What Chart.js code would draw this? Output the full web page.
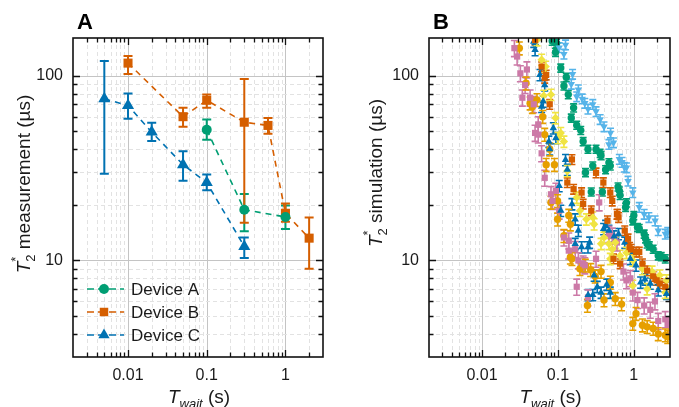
<!DOCTYPE html>
<html><head><meta charset="utf-8">
<script src="https://cdn.jsdelivr.net/npm/chart.js@4.4.1/dist/chart.umd.min.js"></script>
<style>
html,body{margin:0;padding:0;background:#fff;width:679px;height:407px;overflow:hidden}
#wa{position:absolute;left:0;top:0;width:340px;height:407px}
#wb{position:absolute;left:340px;top:0;width:339px;height:407px}
</style></head><body>
<div id="wa"><canvas id="ca" width="340" height="407"></canvas></div>
<div id="wb"><canvas id="cb" width="339" height="407"></canvas></div>
<script>
// ---------- Panel A: measured T2* ----------
const deviceNames = ['Device A', 'Device B', 'Device C'];
const devAx  = [0.1, 0.3, 1];
const devAy  = [51, 18.8, 17.2];
const devAlo = [45, 14.4, 14.8];
const devAhi = [58, 22.9, 19.8];
const devBx  = [0.01, 0.05, 0.1, 0.3, 0.6, 1, 2];
const devBy  = [117, 60, 73.6, 56, 53.8, 18, 13.2];
const devBlo = [102, 53, 67, 16, 48.5, 16.2, 9.0];
const devBhi = [128, 67, 79, 96, 59, 20.3, 17.1];
const devCx  = [0.005, 0.01, 0.02, 0.05, 0.1, 0.3];
const devCy  = [75, 69, 49.5, 33, 26.4, 11.9];
const devClo = [29.5, 58.5, 44.3, 27, 24, 10.3];
const devChi = [120, 80, 55.6, 39, 29.2, 13.3];

// ---------- Panel B: simulated T2* ----------
const skyX = [0.104,0.126,0.12,0.156,0.15,0.186,0.177,0.209,0.226,0.288,0.249,0.318,0.36,0.405,0.493,0.47,0.54,0.645,0.7,0.75,0.8,0.84,0.97,1.18,1.37,1.58,1.91,2.1,2.6,2.8];
const skyY = [142,147,131,102,90,84,77,75,71,70,66,64,58,53,49,42.5,43.4,35.3,34,32,31.8,26.9,23.3,19.4,17.8,17.1,16.4,14.5,13.9,14.2];
const greenX = [0.084,0.096,0.093,0.109,0.129,0.12,0.137,0.161,0.15,0.177,0.2,0.215,0.249,0.318,0.36,0.37,0.288,0.231,0.47,0.49,0.425,0.275,0.385,0.62,0.645,0.66,0.78,0.8,0.97,1.0,1.12,1.18,1.37,1.43,1.5,1.6,1.8,2.1,2.3,2.6];
const greenY = [154,150,134,110,98,88,79,67,59,54,50.6,44,40,40,38,37,32.5,29.9,33.8,32.5,31,23.5,23.5,25,23.8,22.5,19.4,20.5,16.4,17.5,15.1,14.9,13.9,13.1,12.3,12.0,11.5,10.6,10.5,10.2];
const blueX = [0.048,0.05,0.058,0.067,0.064,0.061,0.087,0.094,0.076,0.078,0.126,0.133,0.104,0.153,0.109,0.169,0.186,0.262,0.205,0.4,0.425,0.47,0.55,0.63,0.76,0.9,1.07,0.37,0.33,0.288,0.49,0.249,0.169,0.3,0.44,1.23,1.4,1.65,2.1,2.7,0.25];
const blueY = [153,138,101,89,72.6,68,52,46,44,40,35,31,25.3,20.2,18.6,16.7,14.5,12.5,11.8,14.8,15.4,14.5,13.5,13.9,12.5,10.2,9.4,6.7,7.2,6.5,6.7,11.8,12.3,8.3,7.4,7.6,7.9,7.5,6.9,6.6,6.5];
const vermX = [0.05,0.061,0.067,0.07,0.078,0.153,0.133,0.161,0.205,0.215,0.318,0.397,0.49,0.52,0.6,0.61,0.63,0.275,0.45,0.76,0.84,0.92,1.18,0.54,0.66,0.88,1.07,1.3,1.5,1.8,2.0,2.2,2.6];
const vermY = [156,112,97,101,70,35.2,26.4,24.3,23.3,20.2,29.8,26.4,23.3,21,17.8,17.8,17.1,18.6,16.4,14.5,13.1,11.5,11.1,10.2,9.6,11.8,11.1,9.6,8.8,8.2,7.8,7.5,7.2];
const yelX = [0.053,0.061,0.065,0.069,0.081,0.093,0.1,0.109,0.12,0.133,0.177,0.195,0.237,0.288,0.3,0.405,0.47,0.37,0.52,0.57,0.66,0.49,0.8,0.97,1.3,1.74,2.2,2.7,0.97,1.5,2.6];
const yelY = [156,122,78,112,79,59,46,49,44,30.5,21.9,18.6,16.7,17.1,15.7,13.3,12.3,12.3,11.5,12.5,10.6,10.2,11,10,9.0,8.7,8.3,7.8,7.3,7.0,6.7];
const pinkX = [0.0267,0.029,0.032,0.039,0.037,0.034,0.043,0.048,0.055,0.05,0.055,0.061,0.067,0.081,0.094,0.085,0.104,0.12,0.139,0.169,0.215,0.35,0.47,0.52,0.6,0.177,0.139,0.186,0.226,0.249,0.318,0.73,0.8,0.9,0.97,1.12,1.37,1.65,1.9,2.1,2.6,2.9];
const pinkY = [141,127,103,108,89,76,76,70,54.5,49,48,38,28,22.8,23.8,21,18.6,13.3,12.8,11.5,9.6,20.6,13.9,13.6,12.5,7.2,11.3,10,9.4,6.3,10.2,8.7,7.8,8.0,6.7,6.1,5.7,5.4,6.0,4.7,4.8,4.5];
const orX = [0.031,0.038,0.043,0.046,0.053,0.063,0.067,0.078,0.07,0.09,0.099,0.081,0.099,0.139,0.146,0.12,0.153,0.146,0.195,0.23,0.27,0.31,0.37,0.49,0.405,0.57,0.69,0.245,1.07,0.97,1.3,1.5,1.8,2.1,2.6,2.8];
const orY = [141,91,71,68,74,60,48,40,33,33,21,20.6,16.7,17.5,15.7,13.6,10.2,10.4,9.0,9.4,8.9,8.2,8.7,7.6,6.1,6.2,5.8,5.7,5.15,4.55,4.46,4.37,4.28,4.0,3.94,3.86];
// relative size of the simulation error bars, one per series (sky, green, blue, verm, yellow, pink, orange)
const simRelErr = [0.06, 0.05, 0.07, 0.06, 0.07, 0.10, 0.08];

// ---------- axis ranges ----------
const xRange = [0.002, 3];
const yRange = [3, 160];

const FF = '"Liberation Sans", Arial, Helvetica, sans-serif';
const C = {green:'#009E73', verm:'#D55E00', blue:'#0072B2', sky:'#56B4E9', pink:'#CC79A7', yellow:'#F0E442', orange:'#E69F00'};

function isDecade(v){ const l = Math.log10(v); return Math.abs(l - Math.round(l)) < 1e-6; }
function isNiceTick(v){ const e = Math.floor(Math.log10(v) + 1e-9); const m = v / Math.pow(10, e); return Math.abs(m - Math.round(m)) < 1e-6; }
function fmt(v){ return String(Number(v.toPrecision(1))); }

function zip(xs, ys){ return xs.map((x, i) => ({x: x, y: ys[i]})); }

function layoutRich(ctx, parts){
  let x = 0, prevX = 0, prevW = 0; const out = [];
  for (const p of parts){
    ctx.font = p.font; const w = ctx.measureText(p.t).width;
    if (p.stack){ out.push(Object.assign({}, p, {x: prevX})); x += Math.max(0, w - prevW); prevW = Math.max(prevW, w); }
    else { out.push(Object.assign({}, p, {x: x})); prevX = x; prevW = w; x += w; }
  }
  return {items: out, width: x};
}
function drawRich(ctx, parts, cx, baseY){
  const L = layoutRich(ctx, parts); const x0 = cx - L.width / 2;
  ctx.textAlign = 'left'; ctx.textBaseline = 'alphabetic';
  for (const it of L.items){ ctx.font = it.font; ctx.fillText(it.t, x0 + it.x, baseY + (it.dy || 0)); }
}

const fT = 'italic 19px ' + FF, fN = '19px ' + FF, fS = '13px ' + FF, fSi = 'italic 13px ' + FF;

function framePlugin(cfg){
  return {
    id: 'frame' + cfg.label,
    beforeDatasetsDraw(chart){
      const {ctx, chartArea: a, scales: {x, y}} = chart;
      ctx.save();
      ctx.beginPath(); ctx.rect(a.left, a.top, a.width, a.height); ctx.clip();
      const vline = (px, major) => {
        ctx.beginPath(); ctx.setLineDash(major ? [] : [4, 3]);
        ctx.strokeStyle = major ? '#c4c4c4' : '#e2e2e2'; ctx.lineWidth = 1;
        ctx.moveTo(px, a.top); ctx.lineTo(px, a.bottom); ctx.stroke();
      };
      const hline = (py, major) => {
        ctx.beginPath(); ctx.setLineDash(major ? [] : [4, 3]);
        ctx.strokeStyle = major ? '#c4c4c4' : '#e2e2e2'; ctx.lineWidth = 1;
        ctx.moveTo(a.left, py); ctx.lineTo(a.right, py); ctx.stroke();
      };
      for (const t of x.ticks){ if (!isNiceTick(t.value)) continue; const px = Math.round(x.getPixelForValue(t.value)) + 0.5; if (px <= a.left + 1 || px >= a.right - 1) continue; vline(px, isDecade(t.value)); }
      for (const t of y.ticks){ if (!isNiceTick(t.value)) continue; const py = Math.round(y.getPixelForValue(t.value)) + 0.5; if (py <= a.top + 1 || py >= a.bottom - 1) continue; hline(py, isDecade(t.value)); }
      ctx.setLineDash([]);
      chart.data.datasets.forEach((ds) => {
        if (!ds.errLo) return;
        ctx.strokeStyle = ds.borderColor; ctx.lineWidth = ds.errWidth; const cw = ds.capHalf;
        ds.data.forEach((p, j) => {
          const px = x.getPixelForValue(p.x), p1 = y.getPixelForValue(ds.errLo[j]), p2 = y.getPixelForValue(ds.errHi[j]);
          ctx.beginPath();
          ctx.moveTo(px, p1); ctx.lineTo(px, p2);
          ctx.moveTo(px - cw, p1); ctx.lineTo(px + cw, p1);
          ctx.moveTo(px - cw, p2); ctx.lineTo(px + cw, p2);
          ctx.stroke();
        });
      });
      ctx.restore();
    },
    afterDraw(chart){
      const {ctx, chartArea: a, scales: {x, y}} = chart;
      ctx.save();
      ctx.strokeStyle = '#111'; ctx.lineWidth = 1.3;
      ctx.beginPath();
      for (const t of x.ticks){
        if (!isNiceTick(t.value)) continue;
        const px = Math.round(x.getPixelForValue(t.value)) + 0.5; if (px <= a.left + 1 || px >= a.right - 1) continue;
        const L = isDecade(t.value) ? 7 : 4.5;
        ctx.moveTo(px, a.bottom); ctx.lineTo(px, a.bottom - L);
        ctx.moveTo(px, a.top); ctx.lineTo(px, a.top + L);
      }
      for (const t of y.ticks){
        if (!isNiceTick(t.value)) continue;
        const py = Math.round(y.getPixelForValue(t.value)) + 0.5; if (py <= a.top + 1 || py >= a.bottom - 1) continue;
        const L = isDecade(t.value) ? 7 : 4.5;
        ctx.moveTo(a.left, py); ctx.lineTo(a.left + L, py);
        ctx.moveTo(a.right, py); ctx.lineTo(a.right - L, py);
      }
      ctx.stroke();
      ctx.lineWidth = 1.6; ctx.strokeStyle = '#111';
      ctx.strokeRect(a.left, a.top, a.right - a.left, a.bottom - a.top);
      ctx.fillStyle = '#000'; ctx.font = 'bold 22px ' + FF; ctx.textAlign = 'left'; ctx.textBaseline = 'alphabetic';
      ctx.fillText(cfg.label, a.left + 4, 29);
      ctx.fillStyle = '#1a1a1a';
      drawRich(ctx, [{t: 'T', font: fT}, {t: 'wait', font: fSi, dy: 5}, {t: ' (s)', font: fN}], (a.left + a.right) / 2 + 1, 403);
      ctx.save();
      ctx.translate(cfg.yTitleX, cfg.yTitleY); ctx.rotate(-Math.PI / 2);
      drawRich(ctx, [{t: 'T', font: fT}, {t: '2', font: fS, dy: 5}, {t: '*', font: fS, dy: -10, stack: true}, {t: ' ' + cfg.yWord + ' (\u00b5s)', font: fN}], 0, 6);
      ctx.restore();
      if (cfg.legend){
        const rows = [289, 312, 335];
        chart.data.datasets.forEach((ds, i) => {
          const yy = rows[i];
          ctx.strokeStyle = ds.borderColor; ctx.lineWidth = 1.6; ctx.setLineDash([7, 4]);
          ctx.beginPath(); ctx.moveTo(87, yy); ctx.lineTo(124, yy); ctx.stroke(); ctx.setLineDash([]);
          ctx.fillStyle = ds.borderColor; ctx.strokeStyle = ds.borderColor;
          Chart.helpers.drawPoint(ctx, {pointStyle: ds.pointStyle, radius: ds.legendRadius, rotation: 0, borderWidth: 0}, 104, yy);
          ctx.fillStyle = '#1a1a1a'; ctx.font = '17px ' + FF; ctx.textAlign = 'left'; ctx.textBaseline = 'middle';
          ctx.fillText(deviceNames[i], 131, yy + 1);
        });
      }
      ctx.restore();
    }
  };
}

function makeOptions(yWidth, padRight){
  const tickFont = {family: FF, size: 16};
  return {
    responsive: false, animation: false, devicePixelRatio: 1, events: [],
    layout: {padding: {left: 0, top: 38, right: padRight, bottom: 0}},
    plugins: {legend: {display: false}, tooltip: {enabled: false}},
    scales: {
      x: {
        type: 'logarithmic', min: xRange[0], max: xRange[1],
        grid: {display: false, drawTicks: false}, border: {display: false},
        ticks: {autoSkip: false, maxRotation: 0, padding: 9, color: '#1a1a1a', font: tickFont,
          callback: (v) => isDecade(v) ? fmt(v) : ''},
        afterFit: (s) => { s.height = 50; }
      },
      y: {
        type: 'logarithmic', min: yRange[0], max: yRange[1],
        grid: {display: false, drawTicks: false}, border: {display: false},
        ticks: {autoSkip: false, padding: 10, color: '#1a1a1a', font: tickFont,
          callback: (v) => isDecade(v) ? fmt(v) : ''},
        afterFit: (s) => { s.width = yWidth; }
      }
    }
  };
}

function devDataset(xs, ys, lo, hi, color, style, radius, legendRadius){
  return {
    data: zip(xs, ys), errLo: lo, errHi: hi, errWidth: 2, capHalf: 4.5,
    showLine: true, borderColor: color, backgroundColor: color, borderWidth: 1.6, borderDash: [6, 5],
    pointStyle: style, pointRadius: radius, pointBackgroundColor: color, pointBorderColor: color, pointBorderWidth: 0,
    legendRadius: legendRadius
  };
}

new Chart(document.getElementById('ca'), {
  type: 'scatter',
  data: {datasets: [
    devDataset(devAx, devAy, devAlo, devAhi, C.green, 'circle', 5, 5),
    devDataset(devBx, devBy, devBlo, devBhi, C.verm, 'rect', 6.4, 6),
    devDataset(devCx, devCy, devClo, devChi, C.blue, 'triangle', 7, 6.5)
  ]},
  options: makeOptions(73, 17),
  plugins: [framePlugin({label: 'A', yWord: 'measurement', yTitleX: 24, yTitleY: 184, legend: true})]
});

function simDataset(xs, ys, rel, color, style, radius, rotation){
  return {
    data: zip(xs, ys), errLo: ys.map(v => v * (1 - rel)), errHi: ys.map(v => v * (1 + rel)), errWidth: 1.6, capHalf: 3.5,
    showLine: false, borderColor: color, backgroundColor: color,
    pointStyle: style, pointRadius: radius, pointRotation: rotation || 0,
    pointBackgroundColor: color, pointBorderColor: color, pointBorderWidth: 0
  };
}

new Chart(document.getElementById('cb'), {
  type: 'scatter',
  data: {datasets: [
    simDataset(skyX, skyY, simRelErr[0], C.sky, 'triangle', 4.3, 180),
    simDataset(greenX, greenY, simRelErr[1], C.green, 'circle', 3.7),
    simDataset(vermX, vermY, simRelErr[3], C.verm, 'rect', 4.4),
    simDataset(blueX, blueY, simRelErr[2], C.blue, 'triangle', 4.3),
    simDataset(yelX, yelY, simRelErr[4], C.yellow, 'rectRot', 4.2),
    simDataset(pinkX, pinkY, simRelErr[5], C.pink, 'rect', 4.4),
    simDataset(orX, orY, simRelErr[6], C.orange, 'circle', 3.7)
  ]},
  options: makeOptions(89, 1),
  plugins: [framePlugin({label: 'B', yWord: 'simulation', yTitleX: 36, yTitleY: 173, legend: false})]
});
</script>
</body></html>
